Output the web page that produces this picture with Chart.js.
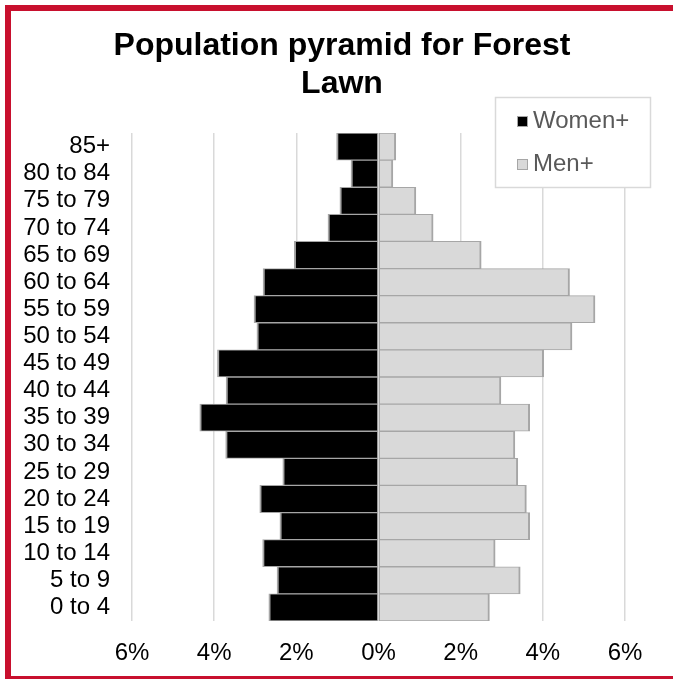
<!DOCTYPE html>
<html>
<head>
<meta charset="utf-8">
<script src="https://cdn.jsdelivr.net/npm/chart.js"></script>
<style>
  html, body { margin: 0; padding: 0; background: #fff; overflow: hidden; }
  #frame {
    position: absolute; left: 5px; top: 5px;
    width: 690px; height: 665px;
    border: 6px solid #c8102e;
  }
  #box { position: relative; width: 662px; height: 665px; }
</style>
</head>
<body>
<div id="frame"><div id="box"><canvas id="chart"></canvas></div></div>
<script>
// Возрастные группы сверху вниз
const ageGroups = ['85+', '80 to 84', '75 to 79', '70 to 74', '65 to 69', '60 to 64',
  '55 to 59', '50 to 54', '45 to 49', '40 to 44', '35 to 39', '30 to 34',
  '25 to 29', '20 to 24', '15 to 19', '10 to 14', '5 to 9', '0 to 4'];

// Доли в процентах (женщины рисуются влево, поэтому со знаком минус)
const women = [1.02, 0.67, 0.94, 1.23, 2.05, 2.81, 3.03, 2.96, 3.92,
  3.71, 4.35, 3.72, 2.33, 2.89, 2.40, 2.82, 2.47, 2.67];
const men = [0.42, 0.35, 0.91, 1.33, 2.50, 4.65, 5.27, 4.71, 4.02,
  2.98, 3.68, 3.32, 3.39, 3.60, 3.68, 2.84, 3.45, 2.70];

const xTicks = [-6, -4, -2, 0, 2, 4, 6];
const titleLines = ['Population pyramid for Forest', 'Lawn'];

const FONT = '"Liberation Sans", Arial, sans-serif';
const EDGE = '#a6a6a6';

// Заголовок по центру всего холста (а не области с отступом справа)
const centerTitle = {
  id: 'centerTitle',
  afterDraw(chart) {
    const ctx = chart.ctx;
    ctx.save();
    ctx.fillStyle = '#000';
    ctx.font = 'bold 32px ' + FONT;
    ctx.textAlign = 'center';
    ctx.textBaseline = 'middle';
    titleLines.forEach((t, i) => ctx.fillText(t, chart.width / 2, 35 + i * 38));
    ctx.restore();
  }
};

// Легенда в рамке, как в Excel
const boxLegend = {
  id: 'boxLegend',
  afterDraw(chart) {
    const ctx = chart.ctx;
    ctx.save();
    ctx.fillStyle = '#fff';
    ctx.fillRect(484, 86, 155, 90);
    ctx.strokeStyle = '#d9d9d9';
    ctx.lineWidth = 1.5;
    ctx.strokeRect(484.5, 86.5, 155, 90);
    const rows = [110, 153];
    chart.data.datasets.forEach((ds, i) => {
      const y = rows[i];
      ctx.fillStyle = ds.backgroundColor;
      ctx.fillRect(506, y - 5, 11, 11);
      ctx.strokeStyle = EDGE;
      ctx.lineWidth = 1;
      ctx.strokeRect(506.5, y - 4.5, 10, 10);
      ctx.fillStyle = '#595959';
      ctx.font = '24px ' + FONT;
      ctx.textBaseline = 'middle';
      ctx.textAlign = 'left';
      ctx.fillText(ds.label, 522, y);
    });
    ctx.restore();
  }
};

new Chart(document.getElementById('chart'), {
  type: 'bar',
  data: {
    labels: ageGroups,
    datasets: [
      {
        label: 'Women+',
        data: women.map(v => -v),
        backgroundColor: '#000000',
        borderColor: EDGE,
        borderWidth: { top: 1, bottom: 1, left: 2, right: 1 },
        borderSkipped: false,
        barPercentage: 1,
        categoryPercentage: 1
      },
      {
        label: 'Men+',
        data: men,
        backgroundColor: '#d9d9d9',
        borderColor: EDGE,
        borderWidth: { top: 1, bottom: 1, left: 1, right: 2 },
        borderSkipped: false,
        barPercentage: 1,
        categoryPercentage: 1
      }
    ]
  },
  options: {
    indexAxis: 'y',
    responsive: true,
    maintainAspectRatio: false,
    animation: false,
    layout: { padding: { left: 0, right: 48, top: 122, bottom: 0 } },
    plugins: {
      legend: { display: false },
      tooltip: { enabled: false },
      title: { display: false }
    },
    scales: {
      x: {
        stacked: true,
        min: -6,
        max: 6,
        afterBuildTicks: scale => { scale.ticks = xTicks.map(v => ({ value: v })); },
        afterFit: scale => { scale.height = 55; },
        grid: { color: '#d9d9d9', lineWidth: 1.5, drawTicks: false },
        border: { display: false },
        ticks: {
          color: '#000',
          padding: 18,
          font: { family: FONT, size: 24 },
          callback: v => Math.abs(v) + '%'
        }
      },
      y: {
        stacked: true,
        afterFit: scale => { scale.width = 121; },
        grid: { display: false, drawTicks: false },
        border: { display: false },
        ticks: {
          color: '#000',
          padding: 22,
          autoSkip: false,
          font: { family: FONT, size: 24 }
        }
      }
    }
  },
  plugins: [boxLegend, centerTitle]
});
</script>
</body>
</html>
